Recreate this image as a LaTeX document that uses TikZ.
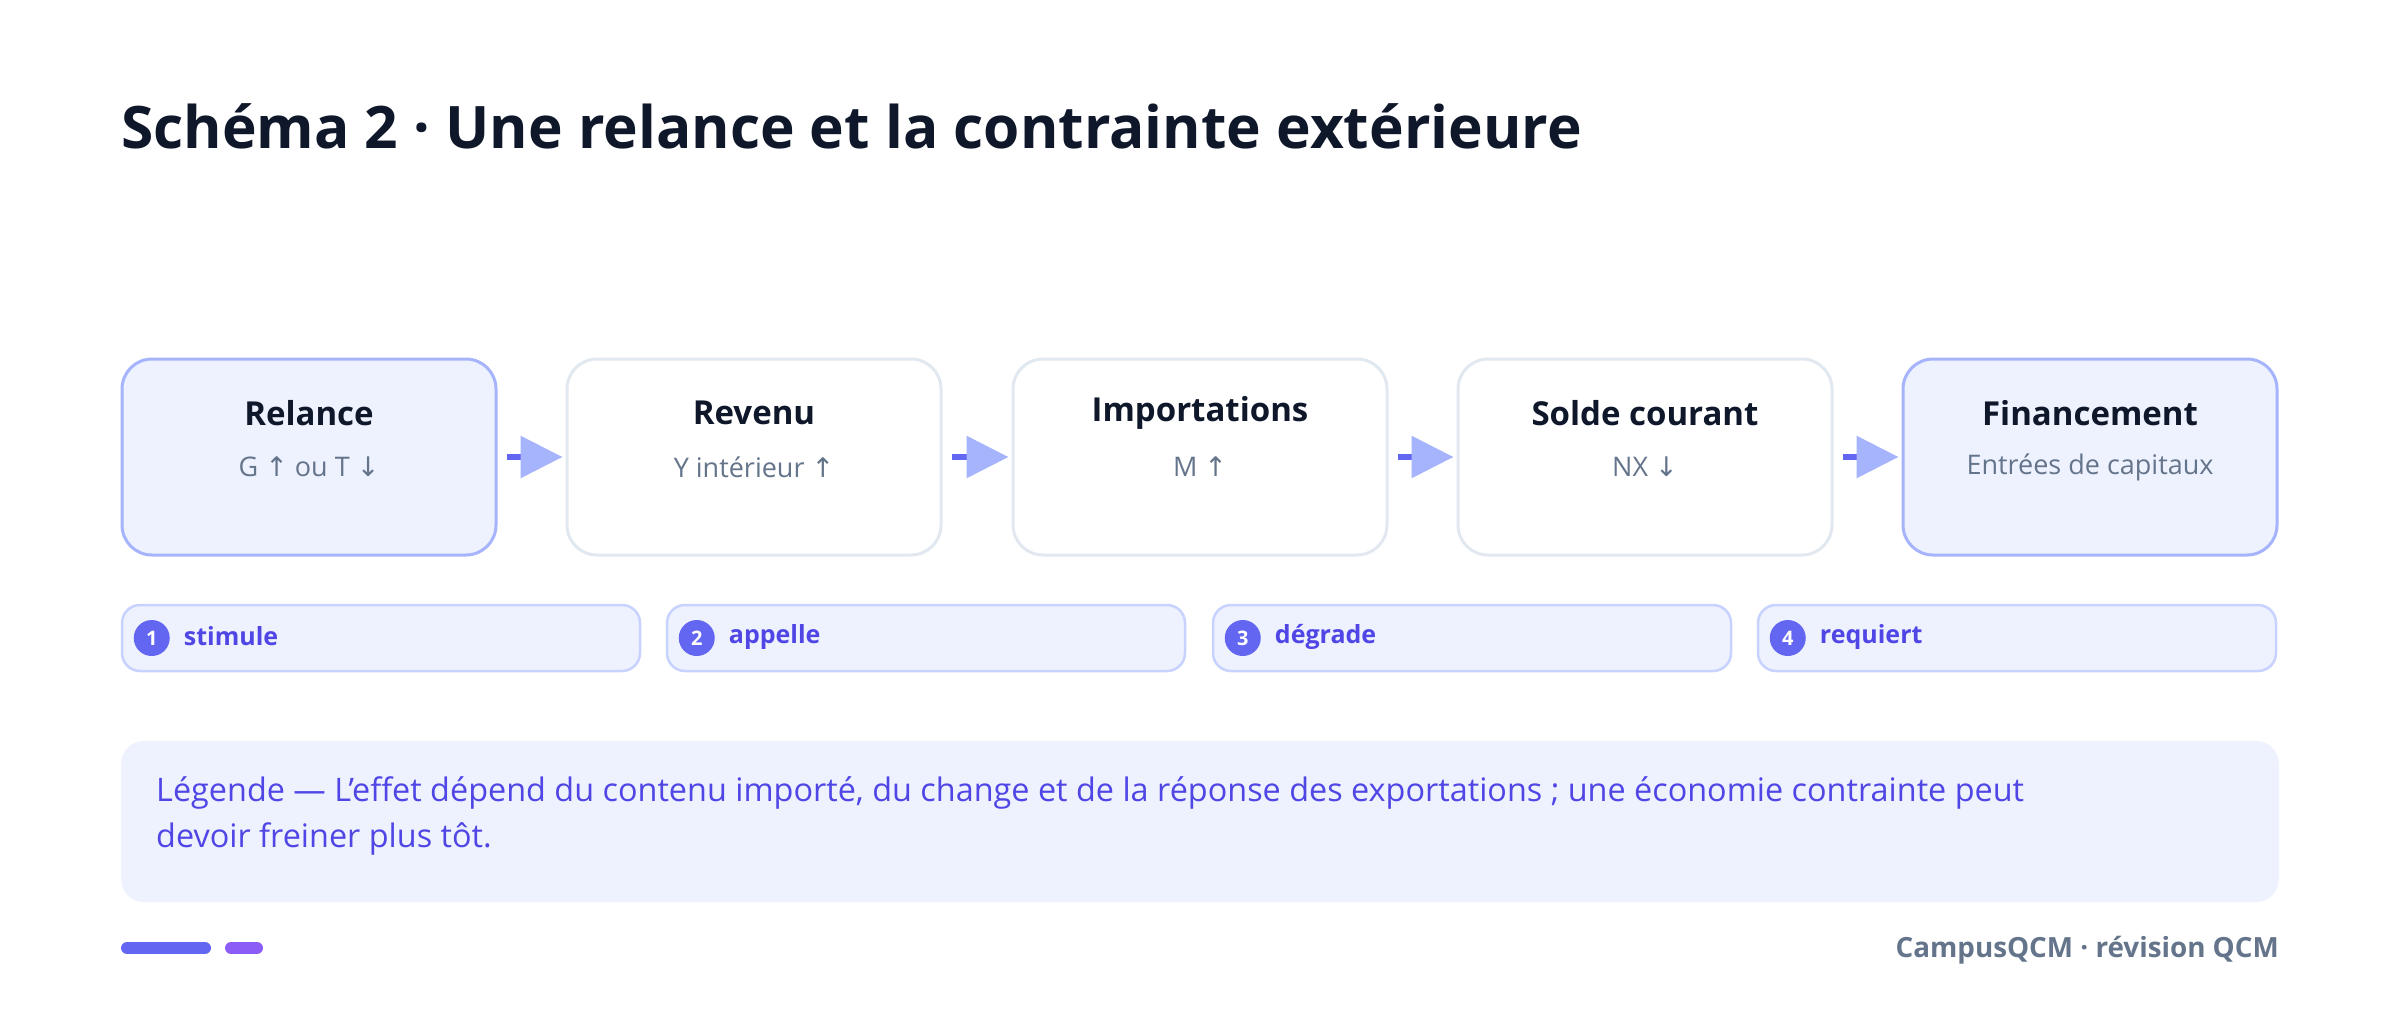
\documentclass[tikz,border=0pt]{standalone}
\usepackage{fontspec}
\setmainfont{Open Sans}
\newfontfamily\arrowfont{DejaVu Sans}
\usetikzlibrary{arrows.meta}
\definecolor{ink}{HTML}{0F172A}
\definecolor{muted}{HTML}{64748B}
\definecolor{indigo}{HTML}{6366F1}
\definecolor{indigodark}{HTML}{4F46E5}
\definecolor{lav}{HTML}{EEF2FF}
\definecolor{lavstroke}{HTML}{A5B4FC}
\definecolor{pillstroke}{HTML}{C7D2FE}
\definecolor{graystroke}{HTML}{E2E8F0}
\definecolor{violetc}{HTML}{8B5CF6}
\newcommand{\up}{{\arrowfont ↑}}
\newcommand{\dn}{{\arrowfont ↓}}
\begin{document}
\begin{tikzpicture}[x=1pt,y=-1pt,
  stagebox/.style={draw=graystroke, fill=white, line width=3pt, rounded corners=30pt,
    minimum width=374pt, minimum height=196pt, inner sep=0pt},
  keybox/.style={stagebox, draw=lavstroke, fill=lav},
  stagetitle/.style={text=ink, font=\fontsize{33}{40}\selectfont\bfseries, inner sep=0pt},
  stagesub/.style={text=muted, font=\fontsize{27}{32}\selectfont, inner sep=0pt},
  flow/.style={draw=indigo, line width=6pt,
    -{Triangle[length=42pt,width=41pt,fill=lavstroke,color=lavstroke]}},
  pill/.style={draw=pillstroke, fill=lav, line width=2.5pt, rounded corners=18pt,
    minimum width=518pt, minimum height=66pt, inner sep=0pt},
  badge/.style={circle, fill=indigo, minimum size=36pt, inner sep=0pt, text=white,
    font=\fontsize{20}{22}\selectfont\bfseries},
  pilltext/.style={text=indigodark, font=\fontsize{25}{30}\selectfont\bfseries, inner sep=0pt, anchor=west},
  legendtext/.style={text=indigodark, font=\fontsize{32.4}{46}\selectfont, inner sep=0pt, anchor=base west},
  footbar/.style={line width=12pt, line cap=round}
]
\useasboundingbox (0,0) rectangle (2400,1010);
\fill[white] (0,0) rectangle (2400,1010);

% title
\node[anchor=base west, inner sep=0pt, text=ink, font=\fontsize{58.6}{68}\selectfont\bfseries]
  (title) at (121,148) {Schéma 2 · Une relance et la contrainte extérieure};

% stage boxes
\node[keybox]   (b1) at (309,457) {};
\node[stagebox] (b2) at (754,457) {};
\node[stagebox] (b3) at (1200,457) {};
\node[stagebox] (b4) at (1645,457) {};
\node[keybox]   (b5) at (2090,457) {};

\node[stagetitle] (t1) at (309,413) {Relance};
\node[stagesub]   (s1) at (309,467) {G \up{} ou T \dn};
\node[stagetitle] (t2) at (754,413) {Revenu};
\node[stagesub]   (s2) at (754,467) {Y intérieur \up};
\node[stagetitle] (t3) at (1200,413) {Importations};
\node[stagesub]   (s3) at (1200,467) {M \up};
\node[stagetitle] (t4) at (1645,413) {Solde courant};
\node[stagesub]   (s4) at (1645,467) {NX \dn};
\node[stagetitle] (t5) at (2090,413) {Financement};
\node[stagesub]   (s5) at (2090,467) {Entrées de capitaux};

% connectors
\draw[flow] ([xshift=9pt]b1.east) -- ([xshift=-3pt]b2.west);
\draw[flow] ([xshift=9pt]b2.east) -- ([xshift=-3pt]b3.west);
\draw[flow] ([xshift=9pt]b3.east) -- ([xshift=-3pt]b4.west);
\draw[flow] ([xshift=9pt]b4.east) -- ([xshift=-3pt]b5.west);

% pills
\node[pill] (p1) at (381,638) {};
\node[pill] (p2) at (926,638) {};
\node[pill] (p3) at (1472,638) {};
\node[pill] (p4) at (2017,638) {};
\node[badge] (n1) at ([xshift=31pt]p1.west) {1};
\node[badge] (n2) at ([xshift=31pt]p2.west) {2};
\node[badge] (n3) at ([xshift=31pt]p3.west) {3};
\node[badge] (n4) at ([xshift=31pt]p4.west) {4};
\node[pilltext] (l1) at ([xshift=63pt,yshift=1.5pt]p1.west) {stimule};
\node[pilltext] (l2) at ([xshift=63pt,yshift=1.5pt]p2.west) {appelle};
\node[pilltext] (l3) at ([xshift=63pt,yshift=1.5pt]p3.west) {dégrade};
\node[pilltext] (l4) at ([xshift=63pt,yshift=1.5pt]p4.west) {requiert};

% legend
\fill[lav, rounded corners=23pt] (121,741) rectangle (2279,902);
\node[legendtext] (lg1) at (156,801) {Légende — L'effet dépend du contenu importé, du change et de la réponse des exportations ; une économie contrainte peut};
\node[legendtext] (lg2) at (156,847) {devoir freiner plus tôt.};

% footer
\draw[footbar, indigo] (127,948) -- (205,948);
\draw[footbar, violetc] (231,948) -- (257,948);
\node[anchor=east, inner sep=0pt, text=muted, font=\fontsize{27.8}{32}\selectfont\bfseries]
  (foot) at (2279,950) {CampusQCM · révision QCM};
\end{tikzpicture}
\end{document}
